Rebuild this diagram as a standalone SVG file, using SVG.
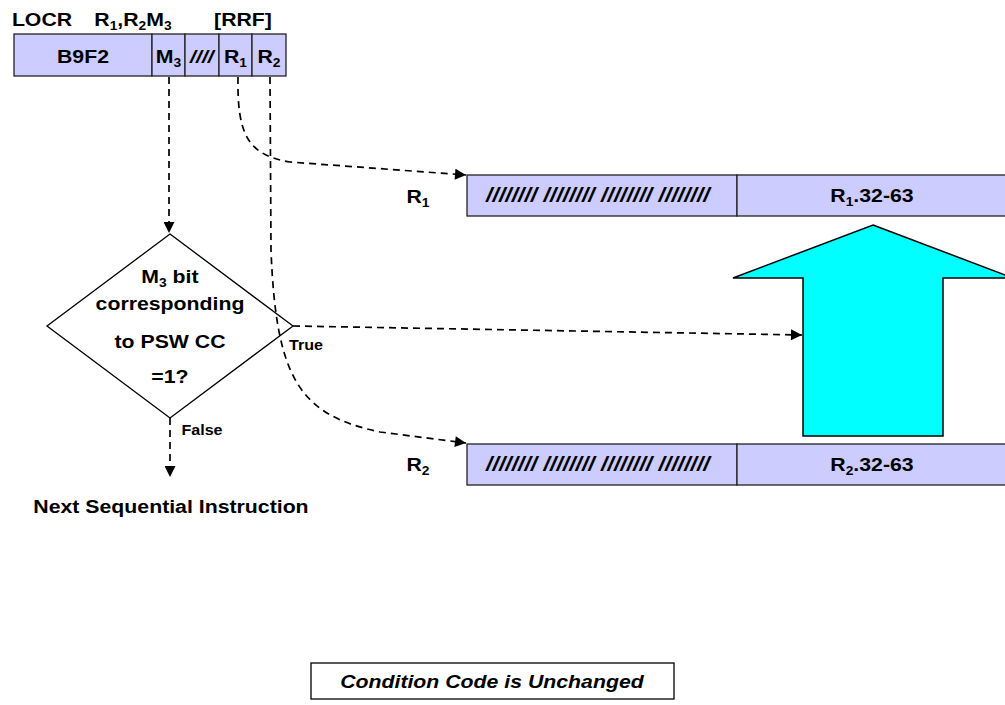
<svg xmlns="http://www.w3.org/2000/svg" width="1005" height="705" viewBox="0 0 1005 705">
<defs>
<style>
text { font-family: "Liberation Sans", Arial, sans-serif; font-weight: bold; fill: #000; text-anchor: middle; transform-box: fill-box; transform-origin: center; transform: scaleX(1.15); }
.f { font-size: 18.5px; }
.h { font-size: 20px; }
.sm { font-size: 14px; }
.it { font-style: italic; }
.sub { font-size: 12px; }
.box { fill: #CCCCFF; stroke: #222; stroke-width: 1.3; }
.dl { fill: none; stroke: #000; stroke-width: 1.7; stroke-dasharray: 7 5; }
.ol { fill: none; stroke: #000; stroke-width: 1.3; }
</style>
<marker id="ah" viewBox="0 0 10 10" refX="10" refY="5" markerWidth="12" markerHeight="11" markerUnits="userSpaceOnUse" orient="auto">
<path d="M0,0 L10,5 L0,10 Z" fill="#000"/>
</marker>
</defs>
<rect width="1005" height="705" fill="#fff"/>

<g id="title">
<text class="f" x="42" y="26">LOCR</text>
<text class="f" x="133" y="26">R<tspan class="sub" dy="4">1</tspan><tspan dy="-4">,R</tspan><tspan class="sub" dy="4">2</tspan><tspan dy="-4">M</tspan><tspan class="sub" dy="4">3</tspan></text>
<text class="f" x="243" y="26">[RRF]</text>
</g>

<g id="instruction">
<rect class="box" x="14" y="34" width="138" height="42"/>
<rect class="box" x="152" y="34" width="33" height="42"/>
<rect class="box" x="185" y="34" width="34" height="42"/>
<rect class="box" x="219" y="34" width="33" height="42"/>
<rect class="box" x="252" y="34" width="34" height="42"/>
<text class="f" x="83" y="63">B9F2</text>
<text class="f" x="168.5" y="63">M<tspan class="sub" dy="4">3</tspan></text>
<text class="f it" x="202" y="63">////</text>
<text class="f" x="235.5" y="63">R<tspan class="sub" dy="4">1</tspan></text>
<text class="f" x="269" y="63">R<tspan class="sub" dy="4">2</tspan></text>
</g>

<g id="reg1">
<text class="f" x="418" y="203">R<tspan class="sub" dy="4">1</tspan></text>
<rect class="box" x="467" y="175" width="270" height="41"/>
<rect class="box" x="737" y="175" width="290" height="41"/>
<text class="h it" x="598" y="202">//////// //////// //////// ////////</text>
<text class="f" x="872" y="202">R<tspan class="sub" dy="4">1</tspan><tspan dy="-4">.32-63</tspan></text>
</g>

<g id="reg2">
<text class="f" x="418" y="471">R<tspan class="sub" dy="4">2</tspan></text>
<rect class="box" x="467" y="444" width="270" height="41"/>
<rect class="box" x="737" y="444" width="290" height="41"/>
<text class="h it" x="598" y="471">//////// //////// //////// ////////</text>
<text class="f" x="872" y="471">R<tspan class="sub" dy="4">2</tspan><tspan dy="-4">.32-63</tspan></text>
</g>

<g id="bigarrow">
<polygon points="873,225 1013,278 943,278 943,436 803,436 803,278 733,278" fill="#00FFFF" stroke="#000" stroke-width="1.5"/>
</g>

<g id="decision">
<polygon class="ol" points="170,234 293,326 170,418 47,326" fill="#fff"/>
<text class="f" x="170" y="283">M<tspan class="sub" dy="4">3</tspan><tspan dy="-4"> bit</tspan></text>
<text class="f" x="170" y="310">corresponding</text>
<text class="f" x="170" y="348">to PSW CC</text>
<text class="f" x="170" y="383">=1?</text>
</g>

<g id="next">
<text class="f" x="171" y="513">Next Sequential Instruction</text>
</g>

<g id="cc">
<rect x="311" y="663" width="363" height="36" fill="#fff" stroke="#000" stroke-width="1.3"/>
<text class="f it" x="492" y="688">Condition Code is Unchanged</text>
</g>

<g id="connectors">
<path class="dl" d="M169,77 L169,233" marker-end="url(#ah)"/>
<path class="dl" d="M238,77 C237,135 248,155 290,162 L466,175" marker-end="url(#ah)"/>
<path class="dl" d="M270,77 L271,250 C276,380 300,415 380,432 L466,443" marker-end="url(#ah)"/>
<path class="dl" d="M293,326 L802,335" marker-end="url(#ah)"/>
<path class="dl" d="M170,418 L170,477" marker-end="url(#ah)"/>
<text class="sm" x="306" y="350">True</text>
<text class="sm" x="202" y="435">False</text>
</g>
</svg>
